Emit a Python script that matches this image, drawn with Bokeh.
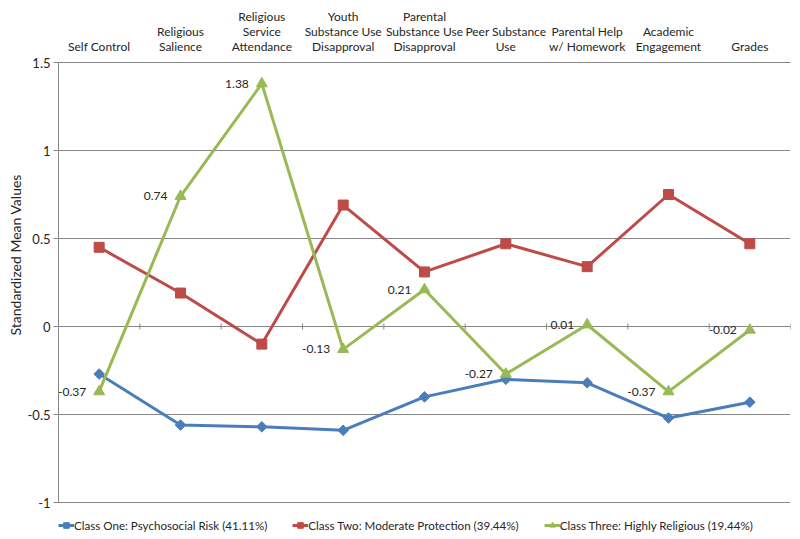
import math
from bokeh.plotting import figure
from bokeh.models import (ColumnDataSource, Range1d, LinearAxis, FixedTicker, Legend, LegendItem,
                          NumeralTickFormatter, LabelSet, Title)
from bokeh.embed import file_html
from bokeh.resources import INLINE
from bokeh.core.properties import value

categories = ["Self Control", "Religious\nSalience", "Religious\nService\nAttendance",
              "Youth\nSubstance Use\nDisapproval", "Parental\nSubstance Use\nDisapproval",
              "Peer Substance\nUse", "Parental Help\nw/ Homework", "Academic\nEngagement", "Grades"]
class_one = [-0.27, -0.56, -0.57, -0.59, -0.40, -0.30, -0.32, -0.52, -0.43]
class_two = [0.45, 0.19, -0.10, 0.69, 0.31, 0.47, 0.34, 0.75, 0.47]
class_three = [-0.37, 0.74, 1.38, -0.13, 0.21, -0.27, 0.01, -0.37, -0.02]
series_names = ["Class One: Psychosocial Risk (41.11%)",
                "Class Two: Moderate Protection (39.44%)",
                "Class Three: Highly Religious (19.44%)"]
y_ticks = [-1, -0.5, 0, 0.5, 1, 1.5]
y_title = "Standardized Mean Values"

FONT = "Lato"
GRAY = "#868686"
TXT = "#262626"
BLUE, RED, GREEN = "#4A7EBB", "#BE4B48", "#98B954"

n = len(categories)
xs = [i + 0.5 for i in range(n)]

# layout: plotted value span (-1..1.5) occupies 440 px; the frame continues 37 px lower for the legend
W, H = 800, 539
TOP, PLOT_H, LEG_H = 62, 440, 37
y_lo, y_hi = min(y_ticks), max(y_ticks)
y_start = y_lo - LEG_H * (y_hi - y_lo) / PLOT_H

p = figure(width=W, height=H, output_backend="svg", toolbar_location=None,
           x_range=Range1d(0, n), y_range=Range1d(y_start, y_hi),
           min_border_left=58, min_border_right=10, min_border_top=TOP, min_border_bottom=0,
           x_axis_location=None, y_axis_location=None)
p.outline_line_color = None
p.background_fill_color = "white"

# y axis (line limited to the value span)
yax = LinearAxis(ticker=FixedTicker(ticks=y_ticks), formatter=NumeralTickFormatter(format="0.[0]"),
                 bounds=(y_lo, y_hi))
yax.axis_line_color = GRAY
yax.major_tick_line_color = GRAY
yax.major_tick_out = 5
yax.major_tick_in = 0
yax.minor_tick_line_color = None
yax.major_label_text_font = FONT
yax.major_label_text_font_size = "13px"
yax.major_label_text_color = TXT
yax.major_label_standoff = 3
p.add_layout(yax, "left")

p.add_layout(Title(text=y_title, align="left", offset=204, text_font=FONT, text_font_size="14px",
                   text_font_style="normal", text_color=TXT, standoff=2), "left")

# category axis on top
xax = LinearAxis(ticker=FixedTicker(ticks=xs),
                 major_label_overrides={x: c for x, c in zip(xs, categories)})
xax.axis_line_color = GRAY
xax.major_tick_line_color = None
xax.minor_tick_line_color = None
xax.major_label_text_font = FONT
xax.major_label_text_font_size = "12px"
xax.major_label_text_line_height = 1.0
xax.major_label_text_color = TXT
xax.major_label_standoff = 3
p.add_layout(xax, "above")

p.ygrid.ticker = FixedTicker(ticks=y_ticks)
p.ygrid.grid_line_color = GRAY
p.ygrid.grid_line_width = 1
p.xgrid.grid_line_color = None

# small category separator ticks on the zero line
bounds = list(range(1, n + 1))
p.scatter(bounds, [0] * len(bounds), marker="dash", angle=math.pi / 2, size=6,
          line_color=GRAY, line_width=1)

src = ColumnDataSource(dict(x=xs, c1=class_one, c2=class_two, c3=class_three,
                            lab=["%.2f" % v for v in class_three]))

l1 = p.line("x", "c1", source=src, line_color=BLUE, line_width=3)
m1 = p.scatter("x", "c1", source=src, marker="square", angle=math.pi / 4, size=7.5,
               fill_color=BLUE, line_color=BLUE)
l2 = p.line("x", "c2", source=src, line_color=RED, line_width=3)
m2 = p.scatter("x", "c2", source=src, marker="square", size=10, fill_color=RED, line_color=RED)
l3 = p.line("x", "c3", source=src, line_color=GREEN, line_width=3)
m3 = p.scatter("x", "c3", source=src, marker="triangle", size=11, fill_color=GREEN, line_color=GREEN)

labels = LabelSet(x="x", y="c3", text="lab", source=src, x_offset=-13, y_offset=0,
                  text_align="right", text_baseline="middle", text_font=value(FONT),
                  text_font_size="12px", text_color=TXT)
p.add_layout(labels)

legend = Legend(items=[LegendItem(label=series_names[0], renderers=[l1, m1]),
                       LegendItem(label=series_names[1], renderers=[l2, m2]),
                       LegendItem(label=series_names[2], renderers=[l3, m3])],
                orientation="horizontal", location=(0, 7))
legend.border_line_color = None
legend.background_fill_alpha = 0
legend.padding = 0
legend.margin = 0
legend.spacing = 25
legend.glyph_width = 16
legend.glyph_height = 14
legend.label_height = 14
legend.label_standoff = 0
legend.label_text_font = FONT
legend.label_text_font_size = "11.6px"
legend.label_text_color = TXT
p.add_layout(legend, "center")

open("out.html", "w").write(file_html(p, INLINE))
